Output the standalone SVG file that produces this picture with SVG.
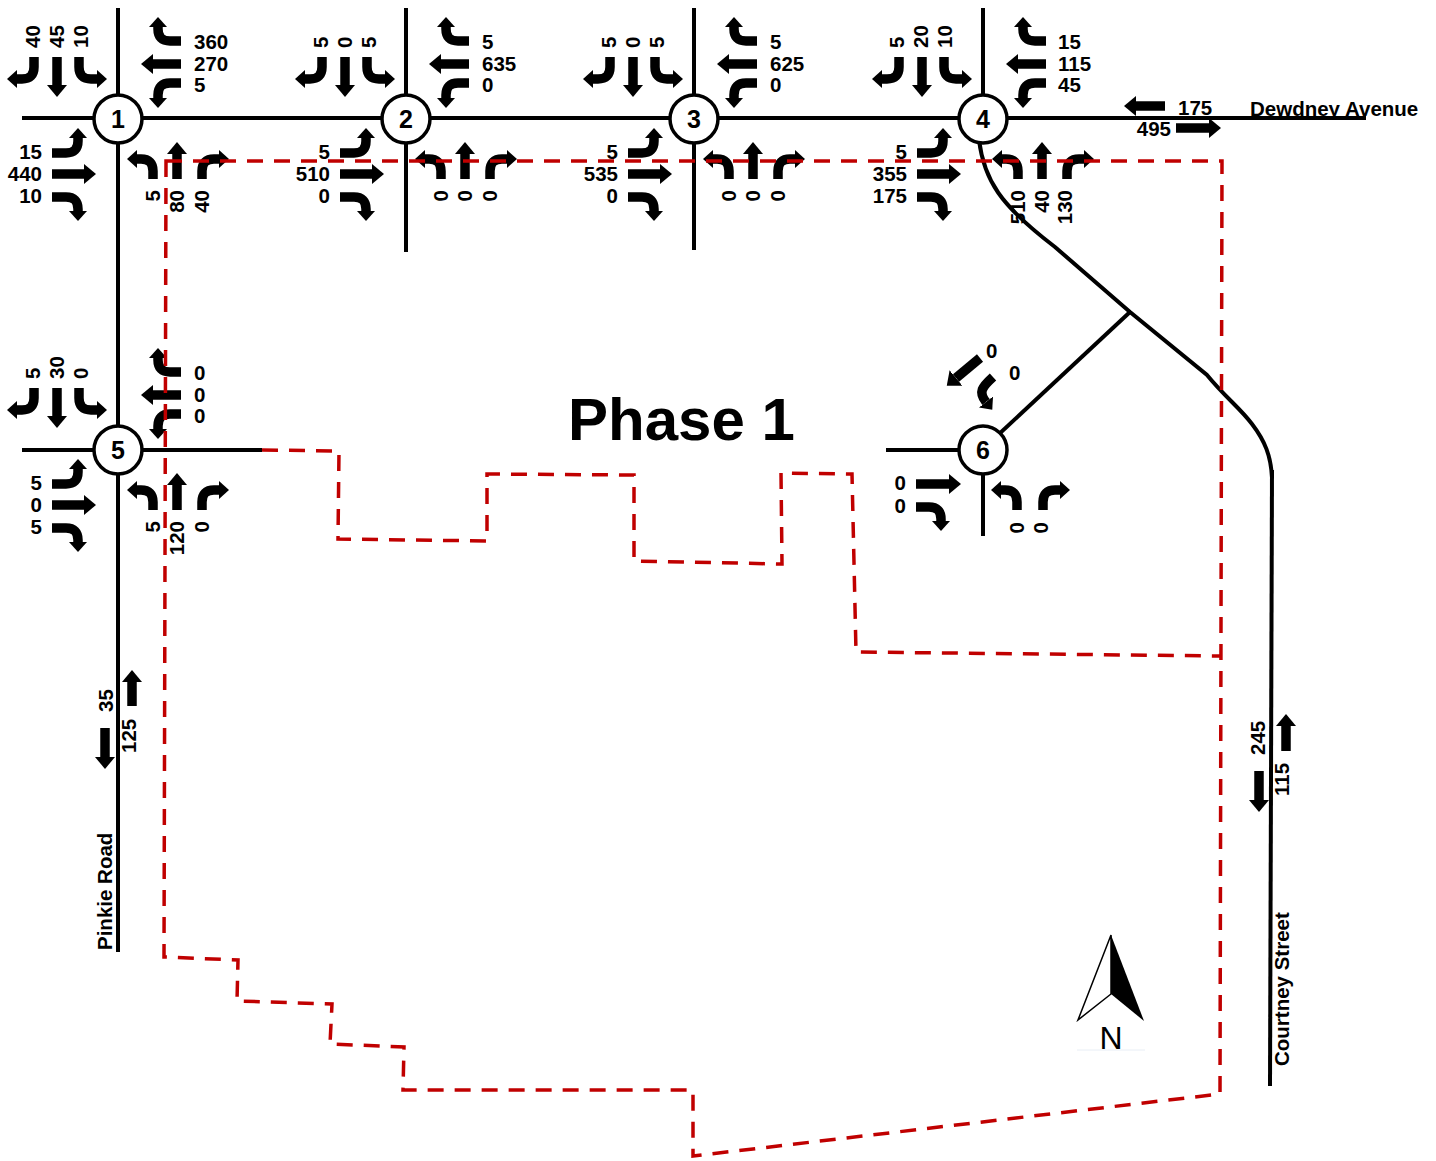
<svg xmlns="http://www.w3.org/2000/svg" xmlns:xlink="http://www.w3.org/1999/xlink" width="1436" height="1161" viewBox="0 0 1436 1161">
<style>
text{font-family:"Liberation Sans",Arial,sans-serif;font-weight:700;fill:#000;font-size:20.5px}
.e{text-anchor:end}
.c{text-anchor:middle}
.road{fill:none;stroke:#000;stroke-width:4}
.bound{fill:none;stroke:#c00000;stroke-width:3.5;stroke-dasharray:16 11}
.t{fill:none;stroke:#000;stroke-width:9.5;marker-end:url(#ht)}
.s{fill:none;stroke:#000;stroke-width:9.5;marker-end:url(#hs)}
.ring{fill:#fff;stroke:#000;stroke-width:3.5}
.id{font-size:25px;text-anchor:middle}
.name{font-size:20.5px}
</style>
<defs>
<marker id="ht" markerUnits="userSpaceOnUse" markerWidth="12" markerHeight="20" refX="0" refY="10" orient="auto"><path d="M0,1 L10,10 L0,19z"/></marker>
<marker id="hs" markerUnits="userSpaceOnUse" markerWidth="14" markerHeight="22" refX="0" refY="11" orient="auto"><path d="M0,1 L12,11 L0,21z"/></marker>
<g id="arrows">
<path class="t" d="M-84,-62V-52Q-84,-40 -96,-40H-101"/>
<path class="s" d="M-61,-62V-34"/>
<path class="t" d="M-39,-62V-52Q-39,-40 -27,-40H-21"/>
<path class="t" d="M63,-78H52Q40,-78 40,-90V-92"/>
<path class="s" d="M63,-55H35"/>
<path class="t" d="M63,-36H52Q40,-36 40,-24V-21"/>
<path class="t" d="M-66,34H-52Q-40,34 -40,22V19"/>
<path class="s" d="M-66,55H-34"/>
<path class="t" d="M-66,78H-52Q-40,78 -40,90V92"/>
<path class="t" d="M35,60V52Q35,40 23,40H19"/>
<path class="s" d="M59,60V35"/>
<path class="t" d="M84,60V52Q84,40 96,40H101"/>
</g>
</defs>
<g id="connectors">
<path class="road" d="M22,118H93M143,118H381M431,118H669M719,118H958M1008,118H1366"/>
<path class="road" d="M118,8V95M118,143V952M406,8V95M406,143V252M694,8V95M694,143V250M983,8V95"/>
<path class="road" d="M22,450H93M143,450H262M886,450H958M983,475V536"/>
<path class="road" d="M998,435L1130,312"/>
<path class="road" d="M979,140C984,180 1000,205 1055,247L1130,312L1207,375C1225,397 1240,408 1252,424C1265,441 1271,456 1272,478"/>
<path class="road" d="M1272,470L1270,1086"/>
</g>
<g id="node1" transform="translate(118,119)">
<use href="#arrows"/>
<text transform="translate(-78,-71) rotate(-90)">40</text><text transform="translate(-54,-71) rotate(-90)">45</text><text transform="translate(-30,-71) rotate(-90)">10</text>
<text x="76" y="-70">360</text><text x="76" y="-48">270</text><text x="76" y="-27">5</text>
<text class="e" x="-76" y="40">15</text><text class="e" x="-76" y="62">440</text><text class="e" x="-76" y="84">10</text>
<text class="e" transform="translate(42,71) rotate(-90)">5</text><text class="e" transform="translate(66,71) rotate(-90)">80</text><text class="e" transform="translate(91,71) rotate(-90)">40</text>
<circle class="ring" r="24"/><text class="id" y="9">1</text>
</g>
<g id="node2" transform="translate(406,119)">
<use href="#arrows"/>
<text transform="translate(-78,-71) rotate(-90)">5</text><text transform="translate(-54,-71) rotate(-90)">0</text><text transform="translate(-30,-71) rotate(-90)">5</text>
<text x="76" y="-70">5</text><text x="76" y="-48">635</text><text x="76" y="-27">0</text>
<text class="e" x="-76" y="40">5</text><text class="e" x="-76" y="62">510</text><text class="e" x="-76" y="84">0</text>
<text class="e" transform="translate(42,71) rotate(-90)">0</text><text class="e" transform="translate(66,71) rotate(-90)">0</text><text class="e" transform="translate(91,71) rotate(-90)">0</text>
<circle class="ring" r="24"/><text class="id" y="9">2</text>
</g>
<g id="node3" transform="translate(694,119)">
<use href="#arrows"/>
<text transform="translate(-78,-71) rotate(-90)">5</text><text transform="translate(-54,-71) rotate(-90)">0</text><text transform="translate(-30,-71) rotate(-90)">5</text>
<text x="76" y="-70">5</text><text x="76" y="-48">625</text><text x="76" y="-27">0</text>
<text class="e" x="-76" y="40">5</text><text class="e" x="-76" y="62">535</text><text class="e" x="-76" y="84">0</text>
<text class="e" transform="translate(42,71) rotate(-90)">0</text><text class="e" transform="translate(66,71) rotate(-90)">0</text><text class="e" transform="translate(91,71) rotate(-90)">0</text>
<circle class="ring" r="24"/><text class="id" y="9">3</text>
</g>
<g id="node4" transform="translate(983,119)">
<use href="#arrows"/>
<text transform="translate(-79,-71) rotate(-90)">5</text><text transform="translate(-55,-71) rotate(-90)">20</text><text transform="translate(-31,-71) rotate(-90)">10</text>
<text x="75" y="-70">15</text><text x="75" y="-48">115</text><text x="75" y="-27">45</text>
<text class="e" x="-76" y="40">5</text><text class="e" x="-76" y="62">355</text><text class="e" x="-76" y="84">175</text>
<text class="e" transform="translate(42,71) rotate(-90)">510</text><text class="e" transform="translate(66,71) rotate(-90)">40</text><text class="e" transform="translate(89,71) rotate(-90)">130</text>
<circle class="ring" r="24"/><text class="id" y="9">4</text>
</g>
<g id="node5" transform="translate(118,450)">
<use href="#arrows"/>
<text transform="translate(-78,-71) rotate(-90)">5</text><text transform="translate(-54,-71) rotate(-90)">30</text><text transform="translate(-30,-71) rotate(-90)">0</text>
<text x="76" y="-70">0</text><text x="76" y="-48">0</text><text x="76" y="-27">0</text>
<text class="e" x="-76" y="40">5</text><text class="e" x="-76" y="62">0</text><text class="e" x="-76" y="84">5</text>
<text class="e" transform="translate(42,71) rotate(-90)">5</text><text class="e" transform="translate(66,71) rotate(-90)">120</text><text class="e" transform="translate(91,71) rotate(-90)">0</text>
<circle class="ring" r="24"/><text class="id" y="9">5</text>
</g>
<g id="node6" transform="translate(983,450)">
<path class="s" d="M-3,-92L-27,-72"/>
<path class="t" d="M10,-73C-1,-63 -5,-58 3,-48"/>
<text x="3" y="-92">0</text><text x="26" y="-70">0</text>
<path class="s" d="M-67,34H-34"/>
<path class="t" d="M-67,57H-54Q-42,57 -42,69V71"/>
<text class="e" x="-77" y="40">0</text><text class="e" x="-77" y="63">0</text>
<path class="t" d="M34,60V52Q34,40 22,40H18"/>
<path class="t" d="M60,60V52Q60,40 72,40H77"/>
<text class="e" transform="translate(41,72) rotate(-90)">0</text><text class="e" transform="translate(65,72) rotate(-90)">0</text>
<circle class="ring" r="24"/><text class="id" y="9">6</text>
</g>
<g id="street-labels">
<path class="s" d="M1165,106H1136"/><text x="1178" y="115">175</text>
<path class="s" d="M1176,128H1209"/><text class="e" x="1171" y="136">495</text>
<text class="name" x="1250" y="116">Dewdney Avenue</text>
<path class="s" d="M132,706V682"/><text transform="translate(113,712) rotate(-90)">35</text>
<path class="s" d="M105,728V757"/><text transform="translate(136,753) rotate(-90)">125</text>
<text class="name" transform="translate(112,950) rotate(-90)">Pinkie Road</text>
<path class="s" d="M1286,751V726"/><text transform="translate(1265,755) rotate(-90)">245</text>
<path class="s" d="M1259,771V800"/><text transform="translate(1289,796) rotate(-90)">115</text>
<text class="name" transform="translate(1289,1066) rotate(-90)">Courtney Street</text>
</g>
<g id="boundary">
<path class="bound" d="M166,161H1222L1220,1094L693,1156V1090H403L404,1047L330,1044L332,1004L237,1001L238,960L164,957Z"/>
<path class="bound" d="M262,450L339,451L338,539L487,541L487,474L634,475L634,561L782,564L781,473L852,474L856,652L1222,656"/>
</g>
<text x="568" y="440" style="font-size:60px">Phase 1</text>
<g id="north">
<path d="M1111,935L1144,1021L1111,994Z" fill="#000"/>
<path d="M1111,935L1078,1020L1111,994Z" fill="#fff" stroke="#000" stroke-width="1.5"/>
<text x="1111" y="1049" class="c" style="font-size:32px;font-weight:400">N</text>
<path d="M1077,1050H1145" stroke="#e8eef5" stroke-width="1"/>
</g>
</svg>
